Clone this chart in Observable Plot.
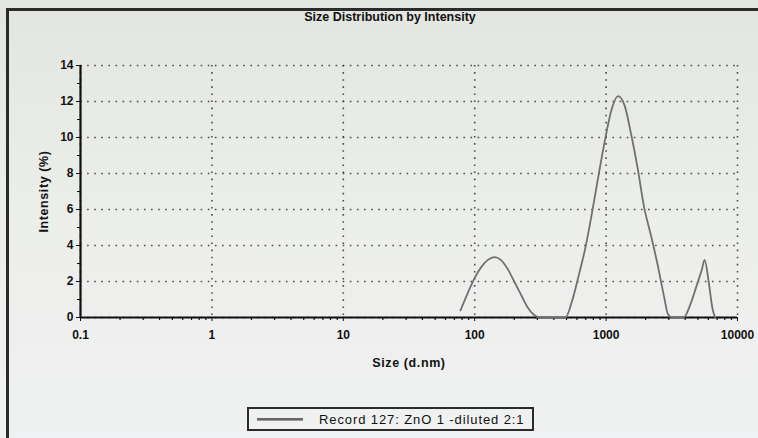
<!DOCTYPE html>
<html>
<head>
<meta charset="utf-8">
<script src="https://cdn.jsdelivr.net/npm/d3@7"></script>
<script src="https://cdn.jsdelivr.net/npm/@observablehq/plot@0.6"></script>
<style>
  html, body { margin: 0; padding: 0; background: #e8eae6; overflow: hidden; }
  #wrap { position: relative; width: 758px; height: 438px; overflow: hidden;
          background: linear-gradient(180deg, #e3e6e0 0%, #eceeea 50%, #f0f1f2 100%); }
  #frameL { position: absolute; left: 6px; top: 8px; width: 3px; height: 430px; background: #2b2b2b; }
  #frameT { position: absolute; left: 6px; top: 8px; width: 752px; height: 3px; background: #2b2b2b; }
  #title { position: absolute; top: 10px; left: 300px; width: 180px; text-align: center;
           font: bold 12.5px "Liberation Sans", Arial, sans-serif; color: #111; white-space: nowrap; }
  #chart { position: absolute; left: 0; top: 0; }
  #legend { position: absolute; left: 247px; top: 407px; width: 283px; height: 20px;
            border: 2px solid #2b2b2b; display: flex; align-items: center;
            font: 13px "Liberation Sans", Arial, sans-serif; color: #111; letter-spacing: 0.9px; white-space: nowrap; }
  #legend .sw { width: 46px; height: 0; border-top: 2px solid #666; border-bottom: 1px solid #999;
                margin-left: 8px; margin-right: 16px; }
</style>
</head>
<body>
<div id="wrap">
  <div id="frameL"></div>
  <div id="frameT"></div>
  <div id="title"></div>
  <div id="chart"></div>
  <div id="legend"><div class="sw"></div><span id="legtext"></span></div>
</div>
<script>
// Size (d.nm) and Intensity (%)
const sizes = [78, 89, 100, 112, 126, 141, 158, 178, 200, 224, 251, 282, 316,
               400, 490, 550, 617, 692, 776, 871, 977, 1096, 1230, 1380, 1549, 1738,
               1950, 2188, 2455, 2754, 2951, 3160,
               3890, 4365, 4900, 5370, 5620, 6030, 6450, 6760];
const intensities = [0.4, 1.4, 2.2, 2.8, 3.2, 3.35, 3.2, 2.7, 2.0, 1.3, 0.6, 0.15, 0,
                     0, 0, 0.9, 2.3, 3.8, 5.7, 7.8, 9.8, 11.5, 12.3, 11.8, 10.2, 8.3,
                     6.1, 4.6, 3.0, 1.2, 0.2, 0,
                     0, 0.7, 1.8, 2.7, 3.2, 2.0, 0.5, 0];
const xTicks = [0.1, 1, 10, 100, 1000, 10000];
const xTickLabels = ["0.1", "1", "10", "100", "1000", "10000"];
const yTicks = [0, 2, 4, 6, 8, 10, 12, 14];
const title = "Size Distribution by Intensity";
const xLabel = "Size (d.nm)";
const yLabel = "Intensity (%)";
const legendLabel = "Record 127: ZnO 1 -diluted 2:1";

const data = sizes.map((s, i) => ({size: s, intensity: intensities[i]}));
const xMinor = [];
for (const d of [0.1, 1, 10, 100, 1000]) for (let k = 2; k <= 9; k++) xMinor.push(+(d * k).toPrecision(3));
const yMinor = [1, 3, 5, 7, 9, 11, 13];

document.getElementById("title").textContent = title;
document.getElementById("legtext").textContent = legendLabel;

const gridStyle = {stroke: "#333", strokeOpacity: 0.85, strokeWidth: 1.6, strokeDasharray: "1.6,5.5"};

const chart = Plot.plot({
  width: 758,
  height: 438,
  marginTop: 65,
  marginLeft: 80,
  marginRight: 21,
  marginBottom: 121,
  style: {background: "transparent", fontFamily: "'Liberation Sans', Arial, sans-serif", fontSize: "12px", color: "#111"},
  x: {type: "log", domain: [0.1, 10000]},
  y: {domain: [0, 14]},
  marks: [
    Plot.gridX(xTicks, {...gridStyle}),
    Plot.gridY(yTicks, {...gridStyle}),
    Plot.axisX(xMinor, {tickSize: 3, text: null, stroke: "#111", strokeWidth: 1.2, label: null}),
    Plot.axisY(yMinor, {tickSize: 3, text: null, stroke: "#111", label: null}),
    Plot.axisX(xTicks, {tickSize: 4, tickPadding: 9, tickFormat: d => xTickLabels[xTicks.indexOf(d)],
      fontWeight: "bold", fontSize: 12, label: xLabel, labelAnchor: "center", labelArrow: "none",
      labelOffset: 49}),
    Plot.axisY(yTicks, {tickSize: 4, tickPadding: 3, fontWeight: "bold", fontSize: 12,
      label: yLabel, labelAnchor: "center", labelArrow: "none", labelOffset: 41}),
    Plot.ruleY([0], {stroke: "#111", strokeWidth: 2.2}),
    Plot.ruleX([0.1], {stroke: "#111", strokeWidth: 2.2}),
    Plot.line(data, {x: "size", y: "intensity", stroke: "#707070", strokeWidth: 1.8, curve: "monotone-x"})
  ]
});
chart.querySelectorAll("[aria-label='x-axis label'] text, [aria-label='y-axis label'] text")
  .forEach(t => { t.setAttribute("font-weight", "bold"); t.setAttribute("font-size", "12.5");
                  t.setAttribute("letter-spacing", "0.6"); });
document.getElementById("chart").appendChild(chart);
</script>
</body>
</html>
